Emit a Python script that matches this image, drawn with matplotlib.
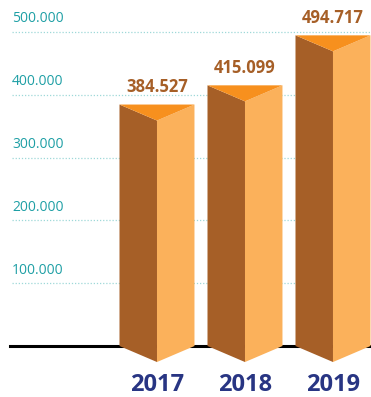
import matplotlib.pyplot as plt

# dane z wykresu
lata = ["2017", "2018", "2019"]
wartosci = [384527, 415099, 494717]
etykiety_osi = [100000, 200000, 300000, 400000, 500000]

def fmt(v):
    # separator tysiecy jako kropka
    return f"{v:,}".replace(",", ".")

plt.rcParams['font.family'] = ['Open Sans', 'DejaVu Sans']

fig = plt.figure(figsize=(3.71, 3.97), dpi=100)
ax = fig.add_axes([0, 0, 1, 1])
ax.set_xlim(-1.784, 2.432)
ax.set_ylim(-81200, 551000)
ax.axis("off")

ciemny = "#A65F27"
jasny = "#FBB15B"
gora = "#F7901E"
d = 25500   # glebokosc "V" w jednostkach danych
w = 0.426   # polowa szerokosci slupka

# linie siatki i opisy osi
for v in etykiety_osi:
    ax.axhline(v, xmin=12 / 371, xmax=1, color="#9ed8d8", lw=0.9,
               linestyle=(0, (1, 1.5)), zorder=1)
    ax.annotate(fmt(v), xy=(12 / 371, v), xycoords=("axes fraction", "data"),
                xytext=(0, 4), textcoords="offset points", va="bottom",
                ha="left", fontsize=10, color="#1E9FA5")

# os pozioma
ax.axhline(0, xmin=10 / 371, xmax=1, color="black", lw=2.2, zorder=2)

for i, (rok, v) in enumerate(zip(lata, wartosci)):
    x = i
    # lewa sciana
    ax.fill([x - w, x, x, x - w], [v, v - d, -d, 0], color=ciemny, lw=0, zorder=3)
    # prawa sciana
    ax.fill([x, x + w, x + w, x], [v - d, v, 0, -d], color=jasny, lw=0, zorder=3)
    # gorny trojkat
    ax.fill([x - w, x + w, x], [v, v, v - d], color=gora, lw=0, zorder=4)
    ax.annotate(fmt(v), xy=(x, v), xytext=(0, 6), textcoords="offset points",
                ha="center", va="bottom", fontsize=12, fontweight="bold",
                color=ciemny)
    ax.text(x, 0.016, rok, transform=ax.get_xaxis_transform(), ha="center",
            va="baseline", fontsize=17, fontweight="bold", color="#283583")

fig.savefig("out.png", dpi=100)
